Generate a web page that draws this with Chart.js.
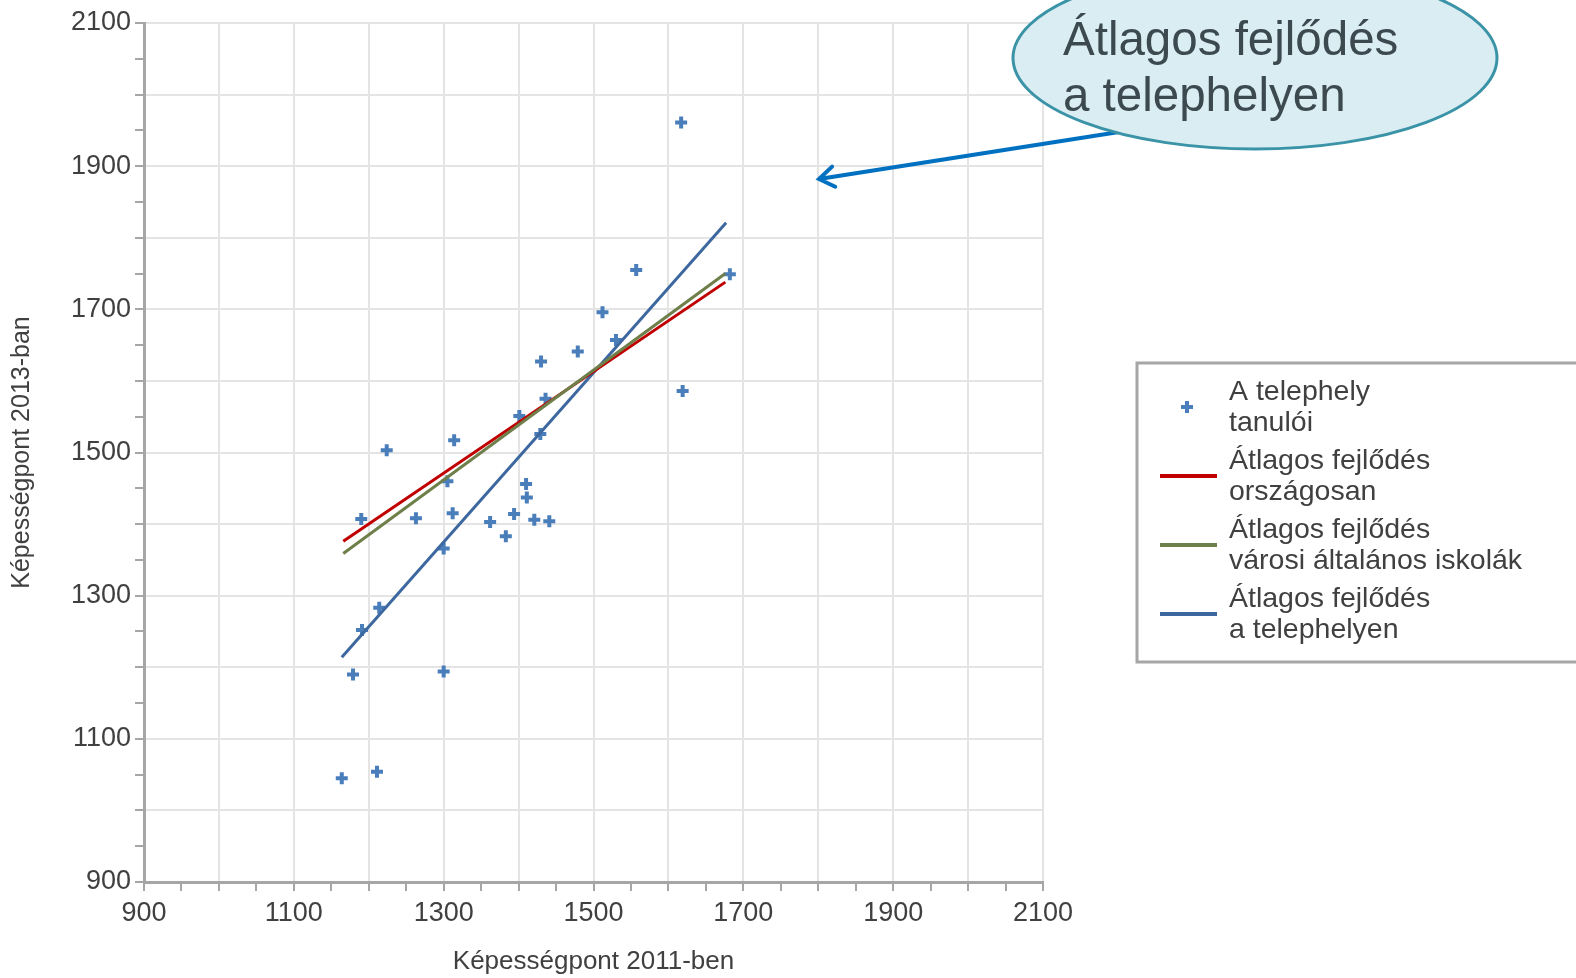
<!DOCTYPE html>
<html lang="hu">
<head>
<meta charset="UTF-8">
<title>Képességpont 2011 / 2013</title>
<script src="https://cdn.jsdelivr.net/npm/chart.js"></script>
<style>
  html, body { margin: 0; padding: 0; background: #fff; }
  #chart { display: block; }
</style>
</head>
<body>
<canvas id="chart" width="1576" height="978"></canvas>
<script>
// A telephely tanulói (pontok)
const studentX = [1617, 1557, 1512, 1530, 1479, 1430, 1619, 1436, 1401, 1314, 1224, 1429, 1305, 1410, 1411,
                  1190, 1263, 1312, 1362, 1394, 1421, 1441, 1383, 1300, 1214, 1191, 1179, 1300, 1164, 1211, 1682];
const studentY = [1961, 1755, 1696, 1657, 1641, 1627, 1586, 1575, 1551, 1517, 1503, 1526, 1460, 1456, 1437,
                  1407, 1408, 1415, 1403, 1414, 1406, 1404, 1383, 1366, 1283, 1252, 1190, 1194, 1045, 1054, 1749];

// trendvonalak végpontjai
const nationalX = [1166, 1676];
const nationalY = [1376, 1738];
const cityX = [1166, 1676];
const cityY = [1359, 1750];
const siteX = [1164, 1677];
const siteY = [1214, 1821];

const axisMin = 900;
const axisMax = 2100;
const labelStep = 200;

const textColor = '#404040';
const fontFamily = '"Liberation Sans", Arial, sans-serif';

function toPoints(xs, ys) {
    return xs.map((x, i) => ({ x: x, y: ys[i] }));
}

function gridColor(ctx) {
    if (!ctx.tick) return 'rgba(0,0,0,0)';
    return ctx.tick.value % 100 === 0 ? '#e4e4e4' : 'rgba(0,0,0,0)';
}

function tickLabel(v) {
    return (v - axisMin) % labelStep === 0 ? String(v) : '';
}

// jelmagyarázat + szövegbuborék
const overlayPlugin = {
    id: 'overlay',
    afterDraw(chart) {
        const ctx = chart.ctx;
        ctx.save();

        // legend box
        ctx.strokeStyle = '#a6a6a6';
        ctx.lineWidth = 3;
        ctx.strokeRect(1137, 363, 460, 299);

        const rowY = [407, 476, 545, 614];
        ctx.font = '28.5px ' + fontFamily;
        ctx.fillStyle = textColor;
        ctx.textBaseline = 'middle';
        ctx.textAlign = 'left';
        chart.data.datasets.forEach((ds, i) => {
            const cy = rowY[i];
            if (ds.showLine) {
                ctx.strokeStyle = ds.borderColor;
                ctx.lineWidth = 4;
                ctx.beginPath();
                ctx.moveTo(1160, cy);
                ctx.lineTo(1217, cy);
                ctx.stroke();
            } else {
                ctx.strokeStyle = ds.borderColor;
                ctx.lineWidth = ds.borderWidth;
                ctx.beginPath();
                ctx.moveTo(1187 - 6, cy);
                ctx.lineTo(1187 + 6, cy);
                ctx.moveTo(1187, cy - 6);
                ctx.lineTo(1187, cy + 6);
                ctx.stroke();
            }
            ctx.fillStyle = textColor;
            ds.label.forEach((line, j) => {
                ctx.fillText(line, 1229, cy - 15 + j * 31);
            });
        });

        // callout arrow
        ctx.strokeStyle = '#0070c0';
        ctx.lineWidth = 4;
        ctx.lineCap = 'round';
        const ax0 = 1119, ay0 = 132, ax1 = 819, ay1 = 179;
        ctx.beginPath();
        ctx.moveTo(ax0, ay0);
        ctx.lineTo(ax1, ay1);
        const ang = Math.atan2(ay0 - ay1, ax0 - ax1);
        const head = 18;
        ctx.moveTo(ax1 + head * Math.cos(ang - 0.6), ay1 + head * Math.sin(ang - 0.6));
        ctx.lineTo(ax1, ay1);
        ctx.lineTo(ax1 + head * Math.cos(ang + 0.6), ay1 + head * Math.sin(ang + 0.6));
        ctx.stroke();

        // callout ellipse
        ctx.beginPath();
        ctx.ellipse(1255, 58, 242, 91, 0, 0, Math.PI * 2);
        ctx.fillStyle = '#daedf3';
        ctx.fill();
        ctx.strokeStyle = '#3a93a6';
        ctx.lineWidth = 3;
        ctx.stroke();

        ctx.fillStyle = '#3c4a50';
        ctx.font = '47.5px ' + fontFamily;
        ctx.textBaseline = 'alphabetic';
        ctx.fillText('Átlagos fejlődés', 1063, 55);
        ctx.fillText('a telephelyen', 1063, 111);

        ctx.restore();
    }
};

new Chart(document.getElementById('chart'), {
    type: 'scatter',
    data: {
        datasets: [
            {
                label: ['A telephely', 'tanulói'],
                data: toPoints(studentX, studentY),
                showLine: false,
                pointStyle: 'cross',
                pointRadius: 6,
                borderWidth: 4,
                borderColor: '#4a7ebb',
                backgroundColor: '#4a7ebb',
                order: 4
            },
            {
                label: ['Átlagos fejlődés', 'országosan'],
                data: toPoints(nationalX, nationalY),
                showLine: true,
                pointRadius: 0,
                borderWidth: 3,
                borderColor: '#c00000',
                order: 2
            },
            {
                label: ['Átlagos fejlődés', 'városi általános iskolák'],
                data: toPoints(cityX, cityY),
                showLine: true,
                pointRadius: 0,
                borderWidth: 3,
                borderColor: '#6e7f4a',
                order: 1
            },
            {
                label: ['Átlagos fejlődés', 'a telephelyen'],
                data: toPoints(siteX, siteY),
                showLine: true,
                pointRadius: 0,
                borderWidth: 3,
                borderColor: '#3d679f',
                order: 3
            }
        ]
    },
    options: {
        responsive: false,
        animation: false,
        devicePixelRatio: 1,
        layout: { padding: { left: 0, right: 533, top: 23, bottom: 0 } },
        plugins: {
            legend: { display: false },
            tooltip: { enabled: false }
        },
        scales: {
            x: {
                type: 'linear',
                min: axisMin,
                max: axisMax,
                afterFit: s => { s.height = 96; },
                ticks: {
                    stepSize: 50,
                    autoSkip: false,
                    maxRotation: 0,
                    padding: 6,
                    color: textColor,
                    font: { family: fontFamily, size: 27 },
                    callback: tickLabel
                },
                grid: {
                    color: gridColor,
                    lineWidth: 2,
                    tickLength: 9,
                    tickColor: '#a6a6a6',
                    tickWidth: 2
                },
                border: { color: '#a6a6a6', width: 3 },
                title: {
                    display: true,
                    text: 'Képességpont 2011-ben',
                    color: textColor,
                    font: { family: fontFamily, size: 26 },
                    padding: { top: 0, bottom: 1 }
                }
            },
            y: {
                type: 'linear',
                min: axisMin,
                max: axisMax,
                afterFit: s => { s.width = 144; },
                ticks: {
                    stepSize: 50,
                    autoSkip: false,
                    padding: 4,
                    color: textColor,
                    font: { family: fontFamily, size: 27 },
                    callback: tickLabel
                },
                grid: {
                    color: gridColor,
                    lineWidth: 2,
                    tickLength: 9,
                    tickColor: '#a6a6a6',
                    tickWidth: 2
                },
                border: { color: '#a6a6a6', width: 3 },
                title: {
                    display: true,
                    text: 'Képességpont 2013-ban',
                    color: textColor,
                    font: { family: fontFamily, size: 25 },
                    padding: { top: 7, bottom: 0 }
                }
            }
        }
    },
    plugins: [overlayPlugin]
});
</script>
</body>
</html>
